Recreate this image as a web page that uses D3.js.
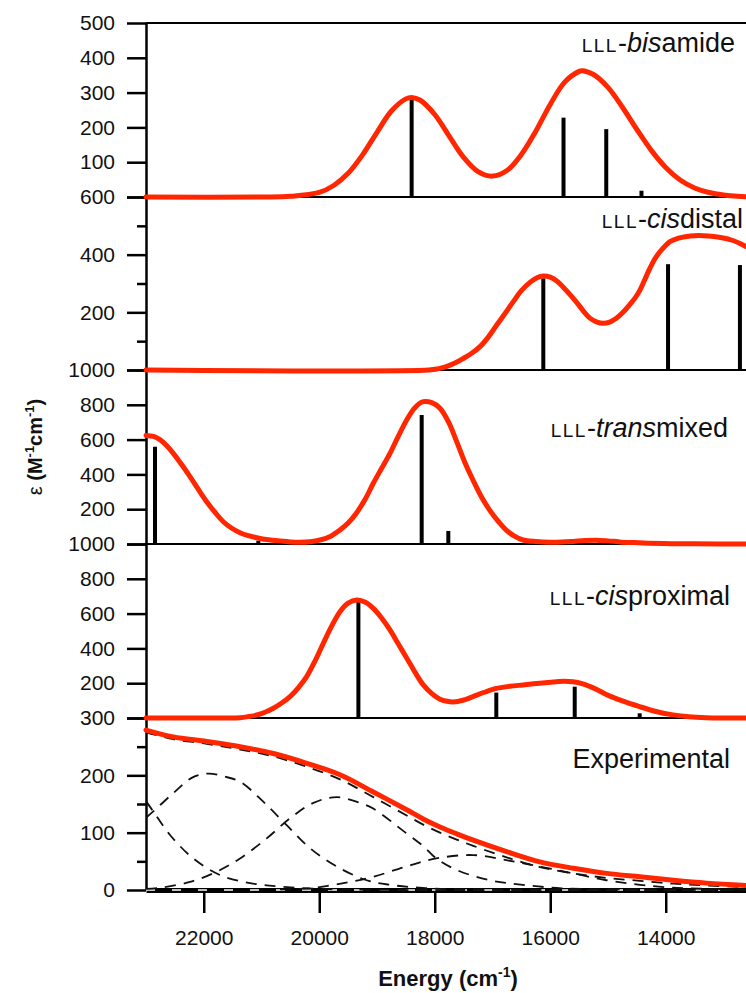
<!DOCTYPE html>
<html>
<head>
<meta charset="utf-8">
<script src="https://cdn.jsdelivr.net/npm/d3@7"></script>
<style>
body { margin: 0; background: #fff; }
svg { display: block; font-family: "Liberation Sans", Arial, Helvetica, sans-serif; }
</style>
</head>
<body>
<svg id="chart" width="746" height="993"></svg>
<script>
// energy ticks (cm-1)
var energyTicks = [22000, 20000, 18000, 16000, 14000];

// ---- LLL-bisamide ----  [energy, epsilon]
var bisamideTicks = [0, 100, 200, 300, 400, 500];
var bisamideCurve = [[23000,0],[21000,0],[20500,2],[20000,13],[19750,33],[19500,68],[19250,121],[19000,186],
  [18750,247],[18500,282],[18400,286],[18250,278],[18000,237],[17750,175],[17500,114],[17250,73],[17000,60],
  [16750,76],[16500,122],[16250,189],[16000,266],[15750,330],[15500,361],[15450,363],[15250,352],[15000,315],
  [14750,258],[14500,194],[14250,134],[14000,85],[13750,49],[13500,26],[13250,13],[13000,6],[12750,2],[12610,1]];
var bisamideSticks = [[18400,284],[15770,228],[15030,195],[14420,18]];

// ---- LLL-cisdistal ----
var cisdistalTicks = [0, 200, 400, 600];
var cisdistalMinor = [100, 300, 500];
var cisdistalCurve = [[23000,0],[18100,0],[17950,4],[17800,12],[17650,24],[17506,40],[17360,58],[17216,81],
  [17070,115],[16927,156],[16780,197],[16640,237],[16500,275],[16351,304],[16230,320],[16120,326],[16000,322],
  [15880,308],[15774,287],[15630,255],[15485,220],[15400,198],[15312,180],[15200,167],[15081,162],[14960,167],
  [14850,180],[14740,200],[14619,228],[14530,250],[14446,277],[14360,315],[14273,353],[14190,385],[14100,410],
  [14010,430],[13927,445],[13780,457],[13638,463],[13500,466],[13350,466],[13170,463],[13004,458],[12850,450],
  [12714,439],[12610,428]];
var cisdistalSticks = [[16120,318],[13960,367],[12715,364]];

// ---- LLL-transmixed ----
var transmixedTicks = [0, 200, 400, 600, 800, 1000];
var transmixedCurve = [[23000,624],[22870,618],[22758,600],[22640,565],[22527,521],[22380,455],[22238,387],
  [22090,312],[21949,243],[21800,180],[21661,128],[21520,92],[21372,65],[21230,48],[21083,36],[20880,24],
  [20680,17],[20500,12],[20333,10],[20160,13],[19987,23],[19800,45],[19641,80],[19500,120],[19352,180],
  [19200,260],[19064,349],[18920,435],[18775,521],[18630,620],[18486,713],[18340,785],[18198,818],[18050,812],
  [17909,780],[17760,700],[17620,588],[17480,470],[17338,368],[17190,270],[17049,195],[16900,130],[16761,80],
  [16620,45],[16472,23],[16250,14],[16000,10],[15800,11],[15600,15],[15400,20],[15200,22],[15000,18],
  [14800,12],[14550,8],[14300,5],[13900,2],[13500,1],[12610,0]];
var transmixedSticks = [[22844,559],[21055,19],[18226,741],[17765,75],[15144,19]];

// ---- LLL-cisproximal ----
var cisproximalTicks = [0, 200, 400, 600, 800, 1000];
var cisproximalCurve = [[23000,0],[21600,0],[21372,2],[21230,8],[21083,17],[20940,33],[20795,56],[20650,86],
  [20506,123],[20360,175],[20218,238],[20070,330],[19930,429],[19790,525],[19641,611],[19500,660],[19352,678],
  [19200,665],[19064,630],[18920,575],[18775,506],[18630,425],[18486,345],[18340,262],[18198,190],[18050,140],
  [17909,108],[17790,96],[17680,92],[17510,102],[17338,123],[17140,148],[16934,170],[16700,182],[16472,190],
  [16180,200],[15895,208],[15750,211],[15606,208],[15450,198],[15317,182],[15170,160],[15029,135],[14750,98],
  [14451,65],[14150,36],[13874,18],[13600,7],[13298,2],[12610,0]];
var cisproximalSticks = [[19322,669],[16934,146],[15576,180],[14451,27]];

// ---- Experimental ----
var expTicks = [0, 100, 200, 300];
var expMinor = [50, 150, 250];
var expCurve = [[23000,279],[22527,267],[21949,259],[21372,250],[20795,238],[20218,221],[19641,201],[19064,171],
  [18486,140],[18200,124],[17909,110],[17620,98],[17333,87],[16756,67],[16178,49],[15600,38],[15022,29],
  [14446,23],[13869,17],[13290,12],[12610,8]];
var expFit = [[23000,275],[22527,263],[21949,255],[21372,245],[20795,233],[20218,215],[19641,193],[19064,162],
  [18486,130],[18200,114],[17909,100],[17620,88],[17333,77],[16756,57],[16178,40],[15600,29],[15022,21],
  [14446,16],[13869,11],[13290,8],[12610,5]];
var expBandZ = [[23000,155],[22874,137],[22584,96],[22181,55],[21719,26],[21199,12],[20680,6],[19987,2],[18600,0],[12610,0]];
var expBandA = [[23000,126],[22874,137],[22527,169],[22200,196],[21921,203],[21650,198],[21372,189],[20969,154],
  [20564,113],[20160,73],[19698,41],[19178,17],[18775,9],[18082,3],[17216,1],[12610,0]];
var expBandB = [[23000,2],[22758,4],[22238,14],[21776,32],[21372,55],[20910,90],[20506,125],[20100,152],[19698,162],
  [19300,152],[19064,142],[18493,99],[18204,77],[17974,55],[17621,35],[17043,17],[16472,9],[15800,3],[14500,1],[12610,0]];
var expBandC = [[20680,1],[20160,3],[19580,12],[19069,23],[18493,41],[17974,55],[17338,61],[16761,52],[16183,41],
  [15606,29],[15029,17],[14446,9],[13874,4],[13298,2],[12610,1]];
var expBaseline = [[23000,0],[12610,0]];

var svg = d3.select('#chart');
var left = 146, right = 746;
var red = '#ff2600';

var xScale = d3.scaleLinear().domain([23000, 12610]).range([left, right]);

var panels = [
  { curve: bisamideCurve, sticks: bisamideSticks, major: bisamideTicks, minor: [], top: 23, bottom: 197,
    label: ['bis', 'amide'], lx: 735, ly: 52 },
  { curve: cisdistalCurve, sticks: cisdistalSticks, major: cisdistalTicks, minor: cisdistalMinor, top: 197, bottom: 370,
    label: ['cis', 'distal'], lx: 743, ly: 228 },
  { curve: transmixedCurve, sticks: transmixedSticks, major: transmixedTicks, minor: [], top: 370, bottom: 544,
    label: ['trans', 'mixed'], lx: 728, ly: 437 },
  { curve: cisproximalCurve, sticks: cisproximalSticks, major: cisproximalTicks, minor: [], top: 544, bottom: 718,
    label: ['cis', 'proximal'], lx: 730, ly: 605 },
  { curve: expCurve, sticks: [], major: expTicks, minor: expMinor, top: 718, bottom: 890,
    label: null, lx: 730, ly: 768, last: true }
];

panels.forEach(function(p) {
  var yScale = d3.scaleLinear().domain([0, d3.max(p.major)]).range([p.bottom, p.top]);
  p.y = yScale;

  // minor ticks
  if (p.minor.length) {
    var mg = svg.append('g').attr('transform', 'translate(' + left + ',0)')
      .call(d3.axisLeft(yScale).tickValues(p.minor).tickSize(9).tickFormat(''));
    mg.select('.domain').remove();
    mg.selectAll('line').attr('stroke', '#000').attr('stroke-width', 2.5);
  }

  // major ticks with labels (the 0 of a panel is the top of the next one)
  var ag = svg.append('g').attr('transform', 'translate(' + left + ',0)')
    .call(d3.axisLeft(yScale).tickValues(p.major).tickSize(19).tickPadding(12).tickSizeOuter(0)
      .tickFormat(function(d) { return (d === 0 && !p.last) ? '' : d; }));
  ag.select('.domain').attr('stroke', '#000').attr('stroke-width', 2.5);
  ag.selectAll('line').attr('stroke', '#000').attr('stroke-width', 2.5);
  ag.selectAll('text').attr('fill', '#111').style('font-size', '21px').style('font-family', '"Liberation Sans", Arial, sans-serif');

  // frame lines
  svg.append('line').attr('x1', left).attr('x2', right)
    .attr('y1', yScale(d3.max(p.major))).attr('y2', yScale(d3.max(p.major)))
    .attr('stroke', '#000').attr('stroke-width', 2);
  if (!p.last) {
    svg.append('line').attr('x1', left).attr('x2', right)
      .attr('y1', yScale(0)).attr('y2', yScale(0))
      .attr('stroke', '#000').attr('stroke-width', 2);
  }
});

// bottom energy axis
var exp = panels[4];
var xg = svg.append('g').attr('transform', 'translate(0,' + exp.bottom + ')')
  .call(d3.axisBottom(xScale).tickValues(energyTicks).tickSize(23).tickPadding(17).tickSizeOuter(0)
    .tickFormat(d3.format('d')));
xg.select('.domain').attr('stroke', '#000').attr('stroke-width', 5);
xg.selectAll('line').attr('stroke', '#000').attr('stroke-width', 2.5);
xg.selectAll('text').attr('fill', '#111').style('font-size', '21px').style('font-family', '"Liberation Sans", Arial, sans-serif');

function lineFor(yScale) {
  return d3.line()
    .x(function(d) { return xScale(d[0]); })
    .y(function(d) { return yScale(d[1]); })
    .curve(d3.curveCatmullRom.alpha(0.5));
}

// zero baseline in the experimental panel (white dashes inside the black band)
svg.append('path').datum(expBaseline)
  .attr('d', lineFor(exp.y).curve(d3.curveLinear))
  .attr('fill', 'none').attr('stroke', '#fff').attr('stroke-width', 1.5)
  .attr('stroke-dasharray', '9,17');

// gaussian components (dashed)
[expBandZ, expBandA, expBandB, expBandC, expFit].forEach(function(band) {
  svg.append('path').datum(band)
    .attr('d', lineFor(exp.y))
    .attr('fill', 'none').attr('stroke', '#111').attr('stroke-width', 1.8)
    .attr('stroke-dasharray', '11,8');
});

// transitions and spectra
panels.forEach(function(p) {
  svg.selectAll(null).data(p.sticks).enter().append('line')
    .attr('x1', function(d) { return xScale(d[0]); })
    .attr('x2', function(d) { return xScale(d[0]); })
    .attr('y1', p.y(0))
    .attr('y2', function(d) { return p.y(d[1]); })
    .attr('stroke', '#000').attr('stroke-width', 4);

  svg.append('path').datum(p.curve)
    .attr('d', lineFor(p.y))
    .attr('fill', 'none').attr('stroke', red).attr('stroke-width', 5)
    .attr('stroke-linejoin', 'round').attr('stroke-linecap', 'round');

  var t = svg.append('text').attr('x', p.lx).attr('y', p.ly)
    .attr('text-anchor', 'end').attr('fill', '#111').style('font-size', '27px');
  if (p.label) {
    t.append('tspan').style('font-size', '19px').style('letter-spacing', '1.5px').text('LLL');
    t.append('tspan').text('-');
    t.append('tspan').style('font-style', 'italic').text(p.label[0]);
    t.append('tspan').text(p.label[1]);
  } else {
    t.text('Experimental');
  }
});

// axis titles
var yt = svg.append('text').attr('transform', 'translate(42,447) rotate(-90)')
  .attr('text-anchor', 'middle').attr('fill', '#111')
  .style('font-size', '20px').style('font-weight', 'bold');
yt.append('tspan').style('font-weight', 'normal').text('ε ');
yt.append('tspan').text('(M');
yt.append('tspan').attr('dy', -8).style('font-size', '13px').text('-1');
yt.append('tspan').attr('dy', 8).text('cm');
yt.append('tspan').attr('dy', -8).style('font-size', '13px').text('-1');
yt.append('tspan').attr('dy', 8).text(')');

var xt = svg.append('text').attr('x', 448).attr('y', 986)
  .attr('text-anchor', 'middle').attr('fill', '#111')
  .style('font-size', '22px').style('font-weight', 'bold');
xt.append('tspan').text('Energy (cm');
xt.append('tspan').attr('dy', -9).style('font-size', '14px').text('-1');
xt.append('tspan').attr('dy', 9).text(')');
</script>
</body>
</html>
